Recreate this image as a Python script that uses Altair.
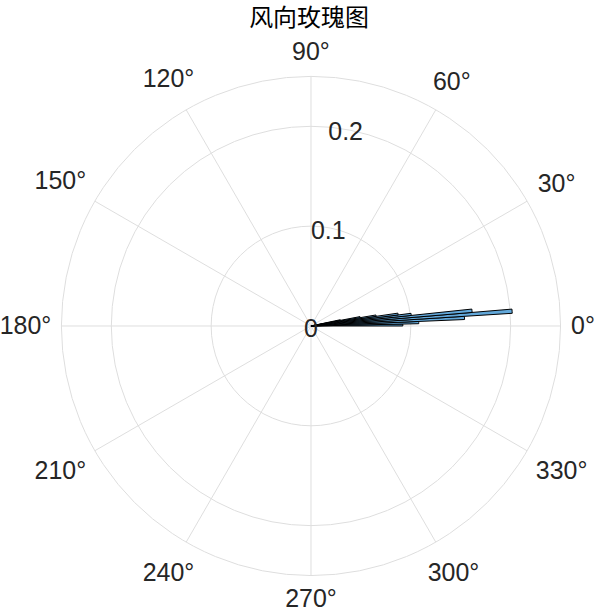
import altair as alt
import pandas as pd
import math

# Histogram bins (degrees) and relative frequencies
bin_start = [0.0, 1.2, 2.4, 3.6, 4.8, 6.0, 7.2, 8.4, 9.6, 10.8]
bin_end = [1.2, 2.4, 3.6, 4.8, 6.0, 7.2, 8.4, 9.6, 10.8, 12.0]
freq = [0.092, 0.108, 0.154, 0.202, 0.162, 0.101, 0.088, 0.066, 0.050, 0.030]

ring_values = [0.1, 0.2, 0.25]
rtick_values = [0.0, 0.1, 0.2]
rtick_labels = ["0", "0.1", "0.2"]
spoke_angles = [0, 30, 60, 90, 120, 150, 180, 210, 240, 270, 300, 330]
angle_labels = [f"{a}°" for a in spoke_angles]
title_text = "风向玫瑰图"

RMAX = 0.25
RPX = 250
W, H = 573, 578
xdom = [-W / 2 / 1000, W / 2 / 1000]
ydom = [-H / 2 / 1000, H / 2 / 1000]

xs = alt.Scale(domain=xdom, range=[0, W])
ys = alt.Scale(domain=ydom, range=[H, 0])
rs = alt.Scale(type="linear", domain=[0, RMAX], range=[0, RPX], zero=True)

GRID = "#dedede"
TXT = "#262626"
FONT = "Liberation Sans"

bars_df = pd.DataFrame({"a1": bin_start, "a2": bin_end, "r": freq})
bars = alt.Chart(bars_df).transform_calculate(
    t1="(90 - datum.a2) * PI / 180",
    t2="(90 - datum.a1) * PI / 180",
).mark_arc(fill="#62a8da", stroke="#000000", strokeWidth=1).encode(
    theta=alt.Theta("t1:Q", scale=None),
    theta2="t2:Q",
    radius=alt.Radius("r:Q", scale=rs),
    radius2=alt.value(0),
)

rings_df = pd.DataFrame({"rv": ring_values})
rings = alt.Chart(rings_df).transform_calculate(
    x0="0", y0="0",
    sz=f"pow(2 * datum.rv / {RMAX} * {RPX}, 2)",
).mark_point(shape="circle", filled=False, stroke=GRID, strokeWidth=1, opacity=1).encode(
    x=alt.X("x0:Q", scale=xs, axis=None),
    y=alt.Y("y0:Q", scale=ys, axis=None),
    size=alt.Size("sz:Q", scale=None, legend=None),
)

spokes_df = pd.DataFrame({"a": spoke_angles})
spokes = alt.Chart(spokes_df).transform_calculate(
    x1="0", y1="0",
    x2=f"{RMAX} * cos(datum.a * PI / 180)",
    y2=f"{RMAX} * sin(datum.a * PI / 180)",
).mark_rule(stroke=GRID, strokeWidth=1).encode(
    x=alt.X("x1:Q", scale=xs, axis=None),
    y=alt.Y("y1:Q", scale=ys, axis=None),
    x2="x2:Q",
    y2="y2:Q",
)

alabels_df = pd.DataFrame({"a": spoke_angles, "lab": angle_labels})
alabels = alt.Chart(alabels_df).transform_calculate(
    w="length(datum.lab) * 13.5",
    rr="(259 + 0.5 * datum.w * abs(cos(datum.a * PI / 180)) + 15 * abs(sin(datum.a * PI / 180))) / 1000",
    x="datum.rr * cos(datum.a * PI / 180)",
    y="datum.rr * sin(datum.a * PI / 180)",
).mark_text(font=FONT, fontSize=25, color=TXT, align="center", baseline="middle").encode(
    x=alt.X("x:Q", scale=xs, axis=None),
    y=alt.Y("y:Q", scale=ys, axis=None),
    text="lab:N",
)

rlabels_df = pd.DataFrame({"r": rtick_values, "lab": rtick_labels})
rlabels = alt.Chart(rlabels_df).transform_calculate(
    x="datum.r * cos(80 * PI / 180)",
    y="datum.r * sin(80 * PI / 180) - 0.003",
).mark_text(font=FONT, fontSize=25, color=TXT, align="center", baseline="middle").encode(
    x=alt.X("x:Q", scale=xs, axis=None),
    y=alt.Y("y:Q", scale=ys, axis=None),
    text="lab:N",
)

title_df = pd.DataFrame({"t": [title_text]})
title = alt.Chart(title_df).transform_calculate(
    x="-0.002", y="0.307",
).mark_text(font="Noto Sans CJK SC", fontSize=24, color="#000000", align="center", baseline="middle").encode(
    x=alt.X("x:Q", scale=xs, axis=None),
    y=alt.Y("y:Q", scale=ys, axis=None),
    text="t:N",
)

chart = alt.layer(rings, spokes, bars, alabels, rlabels, title).properties(
    width=W,
    height=H,
    padding={"left": 25, "top": 37, "right": 0, "bottom": 0},
    autosize=alt.AutoSizeParams(type="none"),
).configure_view(stroke=None)

chart.save("out.html", embed_options={"renderer": "svg", "actions": False})
